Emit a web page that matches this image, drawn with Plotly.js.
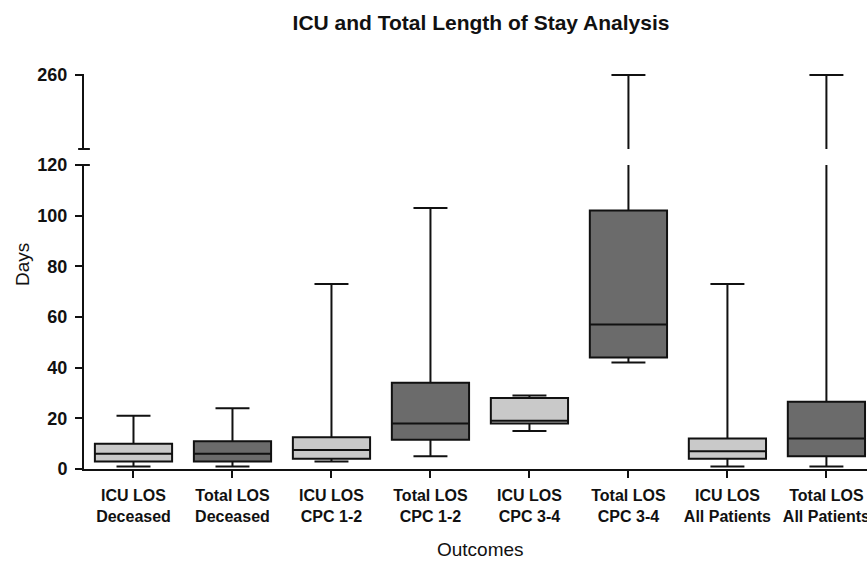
<!DOCTYPE html>
<html>
<head>
<meta charset="utf-8">
<script src="https://cdn.plot.ly/plotly-3.0.1.min.js"></script>
<style>html,body{margin:0;padding:0;background:#fff;}#chart{width:867px;height:562px;}</style>
</head>
<body>
<div id="chart"></div>
<script>
var categories = ["ICU LOS<br>Deceased", "Total LOS<br>Deceased", "ICU LOS<br>CPC 1-2", "Total LOS<br>CPC 1-2",
                  "ICU LOS<br>CPC 3-4", "Total LOS<br>CPC 3-4", "ICU LOS<br>All Patients", "Total LOS<br>All Patients"];
var minVals    = [1, 1, 3, 5, 15, 42, 1, 1];
var q1Vals     = [3, 3, 4, 11.5, 18, 44, 4, 5];
var medianVals = [6, 6, 7.5, 18, 19, 57, 7, 12];
var q3Vals     = [10, 11, 12.5, 34, 28, 102, 12, 26.5];
var maxVals    = [21, 24, 73, 103, 29, 260, 73, 260];
var lowerTicks = [0, 20, 40, 60, 80, 100, 120];
var upperTicks = [260];

var groups = [
  {name: "ICU LOS", idx: [0, 2, 4, 6], color: "#c9c9c9"},
  {name: "Total LOS", idx: [1, 3, 5, 7], color: "#6b6b6b"}
];

function pick(arr, idx) { return idx.map(function (i) { return arr[i]; }); }

var traces = [];
["y", "y2"].forEach(function (ax) {
  groups.forEach(function (g) {
    traces.push({
      type: "box",
      name: g.name,
      x: pick(categories, g.idx),
      q1: pick(q1Vals, g.idx),
      median: pick(medianVals, g.idx),
      q3: pick(q3Vals, g.idx),
      lowerfence: pick(minVals, g.idx),
      upperfence: pick(maxVals, g.idx),
      width: 0.78,
      whiskerwidth: 0.44,
      fillcolor: g.color,
      line: {color: "#111", width: 2},
      boxpoints: false,
      hoverinfo: "skip",
      showlegend: false,
      yaxis: ax
    });
  });
});

var font = "Liberation Sans, Arial, Helvetica, sans-serif";
var layout = {
  width: 867, height: 562,
  margin: {l: 84, r: 0, t: 74, b: 93},
  paper_bgcolor: "#fff", plot_bgcolor: "#fff",
  showlegend: false,
  font: {family: font, color: "#111"},
  title: {text: "ICU and Total Length of Stay Analysis", x: 481 / 867, xref: "container", xanchor: "center",
          y: 1 - 23 / 562, yref: "container", yanchor: "middle",
          font: {family: font, size: 21, weight: "bold", color: "#111"}},
  xaxis: {
    type: "category", categoryorder: "array", categoryarray: categories,
    range: [-0.5, 7.41], showgrid: false, zeroline: false,
    showline: true, linecolor: "#111", linewidth: 2,
    ticks: "outside", ticklen: 7, tickwidth: 2, tickcolor: "#111",
    ticklabelstandoff: 4,
    tickfont: {family: font, size: 16, weight: "bold", color: "#111"},
    anchor: "y", fixedrange: true
  },
  yaxis: {
    domain: [0, 0.7696], range: [0, 120], tickvals: lowerTicks,
    showgrid: false, zeroline: false,
    showline: true, linecolor: "#111", linewidth: 2,
    ticks: "outside", ticklen: 7, tickwidth: 2, tickcolor: "#111",
    ticklabelstandoff: 4,
    tickfont: {family: font, size: 18, weight: "bold", color: "#111"},
    anchor: "x"
  },
  yaxis2: {
    domain: [0.8101, 1], range: [186, 261], tickvals: upperTicks,
    showgrid: false, zeroline: false,
    showline: true, linecolor: "#111", linewidth: 2,
    ticks: "outside", ticklen: 7, tickwidth: 2, tickcolor: "#111",
    ticklabelstandoff: 4,
    tickfont: {family: font, size: 18, weight: "bold", color: "#111"},
    anchor: "x"
  },
  shapes: [
    {type: "line", xref: "x domain", yref: "y domain", x0: -0.0075, x1: 0.0075, y0: 1, y1: 1,
     line: {color: "#111", width: 2}},
    {type: "line", xref: "x domain", yref: "y2 domain", x0: -0.0075, x1: 0.0075, y0: 0, y1: 0,
     line: {color: "#111", width: 2}}
  ],
  annotations: [
    {text: "Days", xref: "paper", yref: "paper", x: (22 - 84) / 783, y: (469 - 264) / 395,
     xanchor: "center", yanchor: "middle", textangle: -90, showarrow: false,
     font: {family: font, size: 19, color: "#111"}},
    {text: "Outcomes", xref: "paper", yref: "paper", x: (480 - 84) / 783, y: (469 - 549) / 395,
     xanchor: "center", yanchor: "middle", showarrow: false,
     font: {family: font, size: 19, color: "#111"}}
  ]
};

Plotly.newPlot("chart", traces, layout, {displayModeBar: false, staticPlot: true});
</script>
</body>
</html>
